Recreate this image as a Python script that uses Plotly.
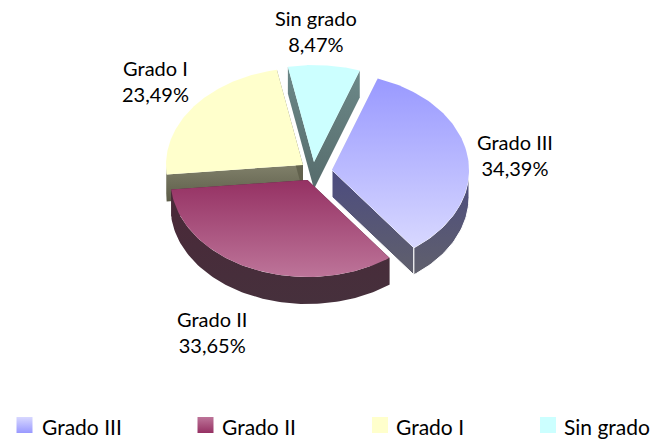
import numpy as np
import plotly.graph_objects as go

categories = ["Grado III", "Grado II", "Grado I", "Sin grado"]
values = [34.39, 33.65, 23.49, 8.47]

# styling / geometry (pixels on a 654x440 canvas)
W, H = 654, 440
RX, RY, DEPTH = 137, 97, 27
START_DEG = 19.5
APEX = [(332, 170), (307.5, 180), (303, 165), (314, 162)]
TOP = [("#9999ff", "#d8d8ff"), ("#953163", "#bd7499"), ("#ffffcc", "#ffffcc"), ("#ccffff", "#ccffff")]
SIDE = [("#4c4c80", "#60606c"), ("#4a2838", "#46303c"), ("#80806a", "#5c5c48"), ("#6c8888", "#566c6c")]
LABEL_XY = [(515, 155), (212, 332), (155, 81), (316, 31)]
LEG_SQ_X = [24.5, 205.5, 380, 548]
LEG_TX_X = [40, 220, 394, 562]
FONT = "Lato"

fig = go.Figure()

def poly(xs, ys, colors, edge=False):
    fig.add_trace(go.Scatter(
        x=list(xs), y=list(ys), mode="lines", fill="toself", hoverinfo="skip", showlegend=False,
        line=dict(color="#ffffff", width=1 if edge else 0),
        fillgradient=dict(type="vertical", colorscale=[[0, colors[1]], [1, colors[0]]]),
    ))

total = sum(values)
spans, t = [], START_DEG
for v in values:
    spans.append((t, t + v / total * 360))
    t += v / total * 360

for i in [3, 2, 0, 1]:
    a0, a1 = np.radians(spans[i][0]), np.radians(spans[i][1])
    ax, ay = APEX[i]
    ts = np.linspace(a0, a1, 90)
    rx = ax + RX * np.sin(ts)
    ry = ay - RY * np.cos(ts)
    # cut faces
    for a in (a0, a1):
        ex, ey = ax + RX * np.sin(a), ay - RY * np.cos(a)
        poly([ax, ex, ex, ax, ax], [ay, ey, ey + DEPTH, ay + DEPTH, ay], SIDE[i], edge=(i == 0))
    # outer wall: only the front half of the rim
    mask = (np.degrees(ts) % 360 >= 90) & (np.degrees(ts) % 360 <= 270)
    if mask.any():
        wx, wy = rx[mask], ry[mask]
        poly(np.r_[wx, wx[::-1], wx[0]], np.r_[wy, wy[::-1] + DEPTH, wy[0]], SIDE[i], edge=(i == 0))
    poly(np.r_[ax, rx, ax], np.r_[ay, ry, ay], TOP[i])

annotations = []
for c, v, (x, y) in zip(categories, values, LABEL_XY):
    annotations.append(dict(x=x, y=y, xref="x", yref="y", showarrow=False, align="center",
                            text=f"{c}<br>{v:.2f}%".replace(".", ","),
                            font=dict(family=FONT, size=20, color="#000000")))

for i, c in enumerate(categories):
    fig.add_trace(go.Scatter(
        x=[LEG_SQ_X[i]], y=[425], mode="markers", hoverinfo="skip", showlegend=False,
        marker=dict(symbol="square", size=16, color=TOP[i][1], line=dict(width=0),
                    gradient=dict(type="vertical", color=TOP[i][0])),
    ))
    annotations.append(dict(x=LEG_TX_X[i], y=426, xref="x", yref="y", showarrow=False, xanchor="left",
                            text=c, font=dict(family=FONT, size=21, color="#000000")))

fig.update_layout(
    width=W, height=H, margin=dict(l=0, r=0, t=0, b=0), autosize=False,
    paper_bgcolor="#ffffff", plot_bgcolor="#ffffff", showlegend=False,
    xaxis=dict(range=[0, W], visible=False, fixedrange=True),
    yaxis=dict(range=[H, 0], visible=False, fixedrange=True),
    annotations=annotations,
)
fig.write_html("out.html", config={"displayModeBar": False},
               post_script="document.body.style.margin='0';document.documentElement.style.overflow='hidden';")
